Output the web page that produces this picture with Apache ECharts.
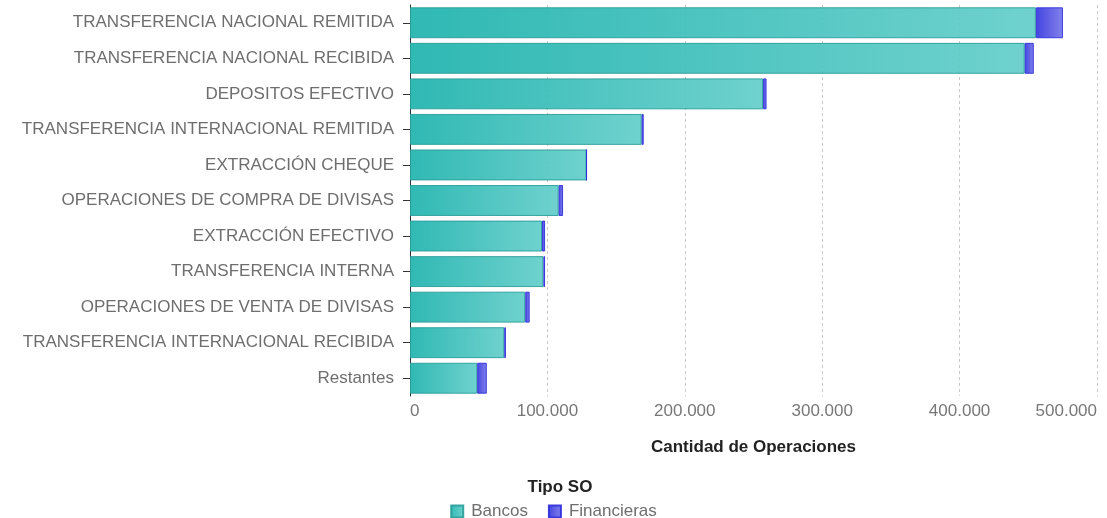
<!DOCTYPE html>
<html>
<head>
<meta charset="utf-8">
<script src="https://cdn.jsdelivr.net/npm/echarts@6/dist/echarts.min.js"></script>
<style>
  html, body { margin: 0; padding: 0; background: #fff; }
  #chart { width: 1107px; height: 518px; }
</style>
</head>
<body>
<div id="chart"></div>
<script>
// categorias (de arriba hacia abajo)
const categorias = [
  'TRANSFERENCIA NACIONAL REMITIDA',
  'TRANSFERENCIA NACIONAL RECIBIDA',
  'DEPOSITOS EFECTIVO',
  'TRANSFERENCIA INTERNACIONAL REMITIDA',
  'EXTRACCIÓN CHEQUE',
  'OPERACIONES DE COMPRA DE DIVISAS',
  'EXTRACCIÓN EFECTIVO',
  'TRANSFERENCIA INTERNA',
  'OPERACIONES DE VENTA DE DIVISAS',
  'TRANSFERENCIA INTERNACIONAL RECIBIDA',
  'Restantes'
];
const bancos = [455500, 447400, 257000, 168600, 128500, 108200, 96100, 97100, 83900, 68600, 48900];
const financieras = [19700, 6600, 2500, 1500, 0, 3200, 2200, 1200, 3200, 1200, 7000];
const ticks = [0, 100000, 200000, 300000, 400000, 500000];

const fuente = 'Liberation Sans, Arial, sans-serif';

// separador de miles con punto
function formatoMiles(v) {
  return String(v).replace(/\B(?=(\d{3})+(?!\d))/g, '.');
}

const chart = echarts.init(document.getElementById('chart'));

const option = {
  animation: false,
  textStyle: { fontFamily: fuente },
  title: {
    text: 'Tipo SO',
    left: 555,
    textAlign: 'center',
    top: 474,
    textStyle: { fontSize: 17, fontWeight: 'bold', color: '#222', fontFamily: fuente }
  },
  legend: {
    data: ['Bancos', 'Financieras'],
    left: 'center',
    top: 498,
    icon: 'rect',
    itemWidth: 12,
    itemHeight: 12,
    itemGap: 20,
    textStyle: { fontSize: 17, color: '#6e6e6e', fontFamily: fuente, padding: [0, 0, 0, 3] }
  },
  grid: { left: 410, right: 10, top: 5, bottom: 122, containLabel: false },
  xAxis: {
    type: 'value',
    min: ticks[0],
    max: ticks[ticks.length - 1],
    interval: 100000,
    name: 'Cantidad de Operaciones',
    nameLocation: 'middle',
    nameGap: 43,
    nameTextStyle: { fontSize: 17, fontWeight: 'bold', color: '#222', fontFamily: fuente },
    axisLine: { show: false },
    axisTick: { show: false },
    axisLabel: {
      fontSize: 17, color: '#777', margin: 7,
      alignMinLabel: 'left', alignMaxLabel: 'right',
      formatter: formatoMiles
    },
    splitLine: { show: true, lineStyle: { type: [3, 3], color: '#c8c8c8', width: 1 } }
  },
  yAxis: {
    type: 'category',
    data: categorias,
    inverse: true,
    axisLine: { show: true, lineStyle: { color: '#333', width: 1 } },
    axisTick: { show: true, alignWithLabel: true, length: 7, lineStyle: { color: '#333' } },
    axisLabel: { fontSize: 17, color: '#6e6e6e', margin: 16, fontFamily: fuente }
  },
  series: [
    {
      name: 'Bancos',
      type: 'bar',
      stack: 'total',
      data: bancos,
      barCategoryGap: '13%',
      itemStyle: {
        opacity: 0.92,
        color: new echarts.graphic.LinearGradient(0, 0, 1, 0, [
          { offset: 0, color: '#1fb3ae' },
          { offset: 1, color: '#63ceca' }
        ]),
        borderColor: '#2a9e9a',
        borderWidth: 1
      }
    },
    {
      name: 'Financieras',
      type: 'bar',
      stack: 'total',
      data: financieras,
      barCategoryGap: '13%',
      itemStyle: {
        opacity: 0.92,
        color: new echarts.graphic.LinearGradient(0, 0, 1, 0, [
          { offset: 0, color: '#3535df' },
          { offset: 1, color: '#7777ea' }
        ]),
        borderColor: '#3030dd',
        borderWidth: 1
      }
    }
  ]
};

chart.setOption(option);
window.addEventListener('resize', () => chart.resize());
</script>
</body>
</html>
